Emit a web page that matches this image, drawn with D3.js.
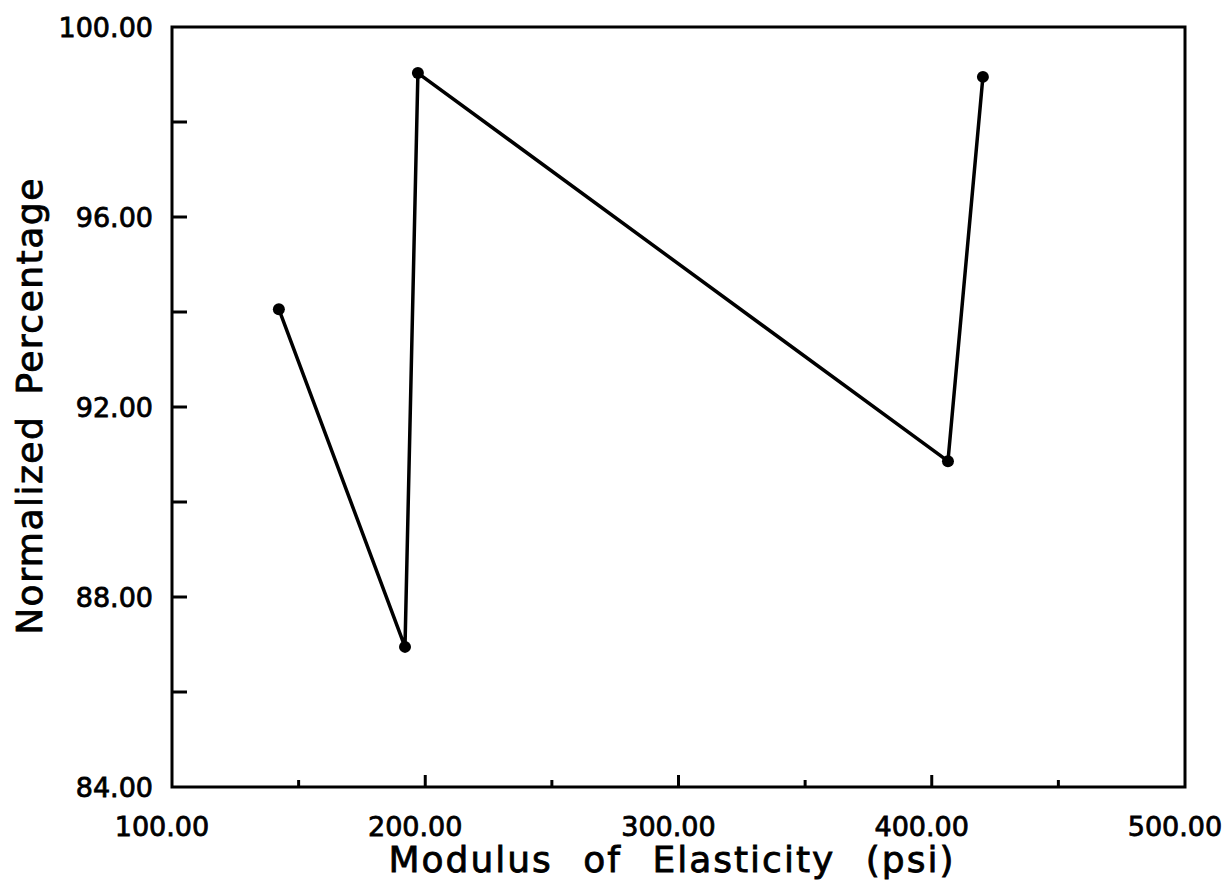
<!DOCTYPE html>
<html>
<head>
<meta charset="utf-8">
<script src="https://cdn.jsdelivr.net/npm/d3@7"></script>
<style>
  body { margin: 0; background: #fff; }
  text { font-family: "DejaVu Sans", sans-serif; fill: #000; stroke: #000; stroke-width: 0.8px; }
</style>
</head>
<body>
<div id="chart"></div>
<script>
// values
const modulus = [142.2, 192.0, 197.1, 406.4, 420.2];
const percent = [94.06, 86.95, 99.03, 90.86, 98.95];
const xTicks = [100, 200, 300, 400, 500];
const xMinor = [150, 250, 350, 450];
const yTicks = [84, 88, 92, 96, 100];
const yMinor = [86, 90, 94, 98];

const W = 1232, H = 894;
const m = { left: 172, right: 1185, top: 27, bottom: 787 };

const svg = d3.select('#chart').append('svg')
  .attr('width', W).attr('height', H);

const x = d3.scaleLinear().domain([100, 500]).range([m.left, m.right]);
const y = d3.scaleLinear().domain([84, 100]).range([m.bottom, m.top]);
const fmt = d3.format('.2f');

// frame
svg.append('rect')
  .attr('x', m.left).attr('y', m.top)
  .attr('width', m.right - m.left).attr('height', m.bottom - m.top)
  .attr('fill', 'none').attr('stroke', '#000').attr('stroke-width', 3);

// x axis: inward ticks, labels below
const xAxis = svg.append('g').attr('transform', `translate(0,${m.bottom})`);
xAxis.selectAll('.maj').data(xTicks.slice(1, -1)).join('line')
  .attr('x1', d => x(d)).attr('x2', d => x(d))
  .attr('y1', 0).attr('y2', -12)
  .attr('stroke', '#000').attr('stroke-width', 3);
xAxis.selectAll('.min').data(xMinor).join('line')
  .attr('x1', d => x(d)).attr('x2', d => x(d))
  .attr('y1', 0).attr('y2', -7)
  .attr('stroke', '#000').attr('stroke-width', 3);
xAxis.selectAll('text').data(xTicks).join('text')
  .attr('x', d => x(d) - 10).attr('y', 49)
  .attr('text-anchor', 'middle')
  .style('font-size', '27px')
  .text(fmt);

// y axis
const yAxis = svg.append('g').attr('transform', `translate(${m.left},0)`);
yAxis.selectAll('line').data([...yTicks.slice(1, -1), ...yMinor]).join('line')
  .attr('x1', 0).attr('x2', 15)
  .attr('y1', d => y(d)).attr('y2', d => y(d))
  .attr('stroke', '#000').attr('stroke-width', 3);
yAxis.selectAll('text').data(yTicks).join('text')
  .attr('x', -19).attr('y', d => y(d) + 10)
  .attr('text-anchor', 'end')
  .style('font-size', '27px')
  .text(fmt);

// titles
svg.append('text')
  .attr('x', 672).attr('y', 872)
  .attr('text-anchor', 'middle')
  .style('font-size', '36px').style('letter-spacing', '2px').style('word-spacing', '17px')
  .text('Modulus of Elasticity (psi)');
svg.append('text')
  .attr('transform', 'translate(42,406) rotate(-90)')
  .attr('text-anchor', 'middle')
  .style('font-size', '36px').style('letter-spacing', '1.5px').style('word-spacing', '8px')
  .text('Normalized Percentage');

// series
const pts = modulus.map((d, i) => [d, percent[i]]);
svg.append('path')
  .datum(pts)
  .attr('d', d3.line().x(d => x(d[0])).y(d => y(d[1])))
  .attr('fill', 'none').attr('stroke', '#000').attr('stroke-width', 3.5)
  .attr('stroke-linejoin', 'round');
svg.selectAll('.pt').data(pts).join('circle')
  .attr('cx', d => x(d[0])).attr('cy', d => y(d[1]))
  .attr('r', 6).attr('fill', '#000');
</script>
</body>
</html>
